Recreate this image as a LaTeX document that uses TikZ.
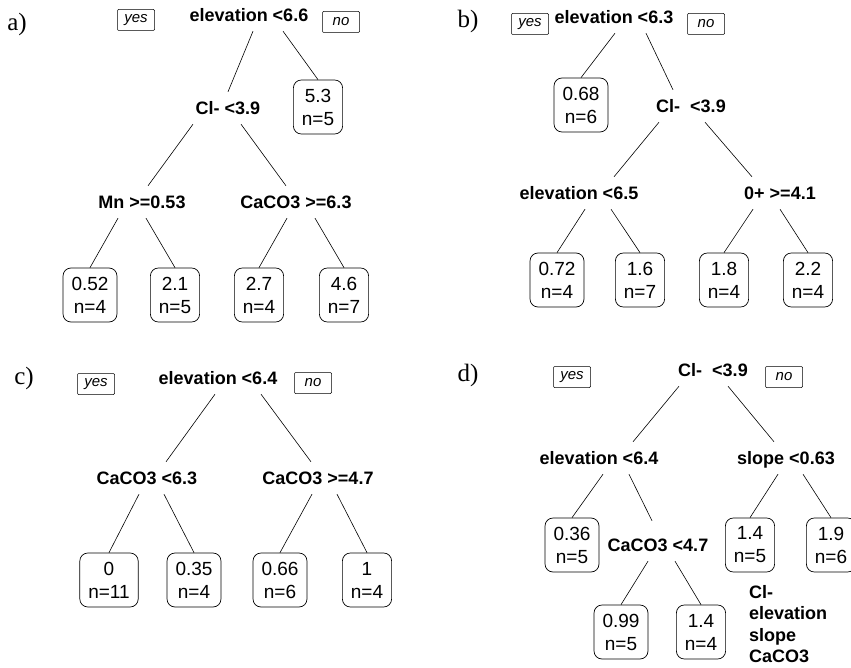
\documentclass[tikz,border=0pt]{standalone}
\usepackage{fontspec}
\setmainfont{Liberation Serif}
\setsansfont{Liberation Sans}

\begin{document}
\begin{tikzpicture}[x=1pt, y=-1pt,
    split/.style={font=\sffamily\bfseries\fontsize{18}{22}\selectfont, text height=13pt, text depth=0pt, minimum height=32pt, inner xsep=2pt},
    leaf/.style={draw, rounded corners=8pt, align=center, inner xsep=8.5pt, minimum height=54pt, line width=0.7pt, font=\sffamily\fontsize{19}{23}\selectfont},
    tag/.style={draw, line width=0.5pt, rounded corners=1pt, inner sep=0pt, minimum width=37pt, minimum height=21pt, font=\sffamily\itshape\fontsize{15}{18}\selectfont},
    panel/.style={font=\fontsize{25}{28}\selectfont},
    branch/.style={line width=0.6pt}]
\useasboundingbox (0,0) rectangle (851,668);

% Panel a
\node[panel] (alabel) at (17,24) {a)};
\node[tag] (ayes) at (136,20) {yes};
\node[tag] (ano) at (341,22) {no};
\node[split] (aroot) at (249,15) {elevation <6.6};
\node[split] (acl) at (228,108) {Cl- <3.9};
\node[leaf] (aleafa) at (318,107) {5.3\\n=5};
\node[split] (amn) at (142,202) {Mn >=0.53};
\node[split] (aca) at (296,202) {CaCO3 >=6.3};
\node[leaf] (aleafb) at (90,295) {0.52\\n=4};
\node[leaf] (aleafc) at (175,295) {2.1\\n=5};
\node[leaf] (aleafd) at (259,295) {2.7\\n=4};
\node[leaf] (aleafe) at (344,295) {4.6\\n=7};
\draw[branch] ([xshift=4pt]aroot.south) -- (acl.north);
\draw[branch] ([xshift=34pt]aroot.south) -- (aleafa.north);
\draw[branch] ([xshift=-35pt]acl.south) -- ([xshift=6pt]amn.north);
\draw[branch] ([xshift=13pt]acl.south) -- ([xshift=-10pt]aca.north);
\draw[branch] ([xshift=-24pt]amn.south) -- (aleafb.north);
\draw[branch] ([xshift=4pt]amn.south) -- (aleafc.north);
\draw[branch] ([xshift=-9pt]aca.south) -- (aleafd.north);
\draw[branch] ([xshift=19pt]aca.south) -- (aleafe.north);

% Panel b
\node[panel] (blabel) at (468,21) {b)};
\node[tag] (byes) at (530,24) {yes};
\node[tag] (bno) at (706,24) {no};
\node[split] (broot) at (614,17) {elevation <6.3};
\node[leaf] (bleafa) at (581,105) {0.68\\n=6};
\node[split] (bcl) at (691,106) {Cl-\ \ <3.9};
\node[split] (bel) at (579,193) {elevation <6.5};
\node[split] (bo) at (780,193) {0+ >=4.1};
\node[leaf] (bleafb) at (557,280) {0.72\\n=4};
\node[leaf] (bleafc) at (640,280) {1.6\\n=7};
\node[leaf] (bleafd) at (724,280) {1.8\\n=4};
\node[leaf] (bleafe) at (808,280) {2.2\\n=4};
\draw[branch] ([xshift=1pt]broot.south) -- (bleafa.north);
\draw[branch] ([xshift=32pt]broot.south) -- ([xshift=-18pt]bcl.north);
\draw[branch] ([xshift=-32pt]bcl.south) -- ([xshift=35pt]bel.north);
\draw[branch] ([xshift=14pt]bcl.south) -- ([xshift=-28pt]bo.north);
\draw[branch] ([xshift=6pt]bel.south) -- (bleafb.north);
\draw[branch] ([xshift=32pt]bel.south) -- (bleafc.north);
\draw[branch] ([xshift=-27pt]bo.south) -- (bleafd.north);
\draw[branch] (bo.south) -- (bleafe.north);

% Panel c
\node[panel] (clabel) at (24,378) {c)};
\node[tag] (cyes) at (96,384) {yes};
\node[tag] (cno) at (313,383) {no};
\node[split] (croot) at (218,378) {elevation <6.4};
\node[split] (cl) at (147,478) {CaCO3 <6.3};
\node[split] (cr) at (318,478) {CaCO3 >=4.7};
\node[leaf] (cleafa) at (109,580) {0\\n=11};
\node[leaf] (cleafb) at (194,580) {0.35\\n=4};
\node[leaf] (cleafc) at (280,580) {0.66\\n=6};
\node[leaf] (cleafd) at (367,580) {1\\n=4};
\draw[branch] ([xshift=-3pt]croot.south) -- ([xshift=19pt]cl.north);
\draw[branch] ([xshift=43pt]croot.south) -- ([xshift=-7pt]cr.north);
\draw[branch] ([xshift=-8pt]cl.south) -- (cleafa.north);
\draw[branch] ([xshift=17pt]cl.south) -- (cleafb.north);
\draw[branch] ([xshift=-6pt]cr.south) -- (cleafc.north);
\draw[branch] ([xshift=19pt]cr.south) -- (cleafd.north);

% Panel d
\node[panel] (dlabel) at (468,375) {d)};
\node[tag] (dyes) at (572,377) {yes};
\node[tag] (dno) at (784,377) {no};
\node[split] (droot) at (713,370) {Cl-\ \ <3.9};
\node[split] (del) at (599,458) {elevation <6.4};
\node[split] (dsl) at (786,458) {slope <0.63};
\node[leaf] (dleafa) at (572,545) {0.36\\n=5};
\node[split] (dca) at (658,545) {CaCO3 <4.7};
\node[leaf] (dleafb) at (750,545) {1.4\\n=5};
\node[leaf] (dleafc) at (831,545) {1.9\\n=6};
\node[leaf] (dleafd) at (621,632) {0.99\\n=5};
\node[leaf] (dleafe) at (701,632) {1.4\\n=4};
\draw[branch] ([xshift=-34pt]droot.south) -- ([xshift=34pt]del.north);
\draw[branch] ([xshift=15pt]droot.south) -- ([xshift=-12pt]dsl.north);
\draw[branch] ([xshift=4pt]del.south) -- (dleafa.north);
\draw[branch] ([xshift=30pt]del.south) -- ([xshift=-6pt,yshift=8pt]dca.north);
\draw[branch] ([xshift=-8pt]dsl.south) -- (dleafb.north);
\draw[branch] ([xshift=17pt]dsl.south) -- (dleafc.north);
\draw[branch] ([xshift=-10pt]dca.south) -- (dleafd.north);
\draw[branch] ([xshift=17pt]dca.south) -- (dleafe.north);
% variable list
\node[font=\sffamily\bfseries\fontsize{18}{21.5}\selectfont, align=left, inner sep=0pt, anchor=north west] (dvars) at (749,585) {Cl-\\elevation\\slope\\CaCO3};

\end{tikzpicture}
\end{document}
